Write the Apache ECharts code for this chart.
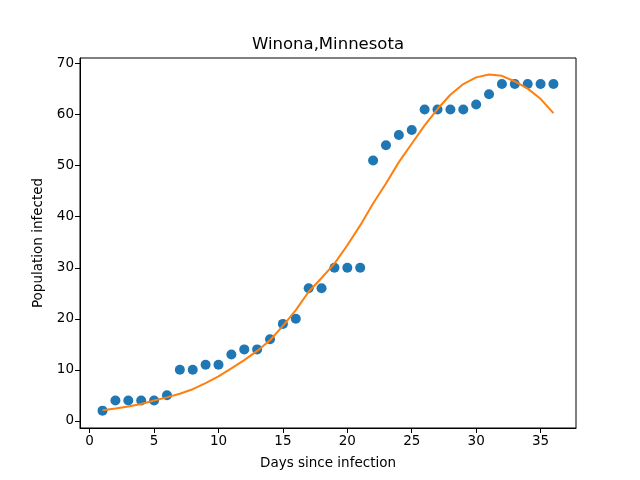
<!DOCTYPE html>
<html>
<head>
<meta charset="utf-8">
<script src="https://cdn.jsdelivr.net/npm/echarts@6/dist/echarts.min.js"></script>
<style>html,body{margin:0;padding:0;background:#fff}#c{width:640px;height:480px}</style>
</head>
<body>
<div id="c"></div>
<script>
const days = [1,2,3,4,5,6,7,8,9,10,11,12,13,14,15,16,17,18,19,20,21,22,23,24,25,26,27,28,29,30,31,32,33,34,35,36];
const infected = [2,4,4,4,4,5,10,10,11,11,13,14,14,16,19,20,26,26,30,30,30,51,54,56,57,61,61,61,61,62,64,66,66,66,66,66];
const fitted = [2.1,2.4,2.8,3.3,4.0,4.6,5.3,6.2,7.4,8.7,10.3,11.9,13.7,15.8,18.6,21.7,25.3,28.0,30.8,34.4,38.3,42.6,46.5,50.7,54.3,57.9,61.1,63.9,66.0,67.3,67.85,67.6,66.5,65.1,63.1,60.3];
const xTicks = [0,5,10,15,20,25,30,35];
const yTicks = [0,10,20,30,40,50,60,70];

const chart = echarts.init(document.getElementById('c'));
const font = 'DejaVu Sans';
chart.setOption({
  animation: false,
  backgroundColor: '#fff',
  title: {
    text: 'Winona,Minnesota', left: 323, top: 31, textAlign: 'center',
    textStyle: {fontFamily: font, fontSize: 16.5, fontWeight: 'normal', color: '#000'}
  },
  grid: {left: 80, right: 64, top: 58, bottom: 52, show: true, borderColor: '#000', borderWidth: 1},
  xAxis: {
    type: 'value', min: -0.75, max: 37.75,
    name: 'Days since infection', nameLocation: 'middle', nameGap: 28,
    nameTextStyle: {fontFamily: font, fontSize: 13.5, color: '#000'},
    axisLine: {show: true, onZero: false, lineStyle: {color: '#000', width: 1}},
    axisTick: {show: true, length: 5, customValues: xTicks, lineStyle: {color: '#000'}},
    axisLabel: {customValues: xTicks, fontFamily: font, fontSize: 13.5, color: '#000', margin: 6},
    splitLine: {show: false}
  },
  yAxis: {
    type: 'value', min: -1.4, max: 71.1,
    name: 'Population infected', nameLocation: 'middle', nameGap: 35, nameRotate: 90,
    nameTextStyle: {fontFamily: font, fontSize: 13.5, color: '#000'},
    axisLine: {show: true, onZero: false, lineStyle: {color: '#000', width: 1}},
    axisTick: {show: true, length: 5, customValues: yTicks, lineStyle: {color: '#000'}},
    axisLabel: {customValues: yTicks, fontFamily: font, fontSize: 13.5, color: '#000', margin: 6},
    splitLine: {show: false}
  },
  series: [
    {
      type: 'scatter', data: days.map((d, i) => [d, infected[i]]),
      symbolSize: 10, itemStyle: {color: '#1f77b4', opacity: 1}, z: 2
    },
    {
      type: 'line', data: days.map((d, i) => [d, fitted[i]]),
      showSymbol: false, symbol: 'none', smooth: false,
      lineStyle: {color: '#ff7f0e', width: 2}, z: 3
    }
  ]
});
</script>
</body>
</html>
